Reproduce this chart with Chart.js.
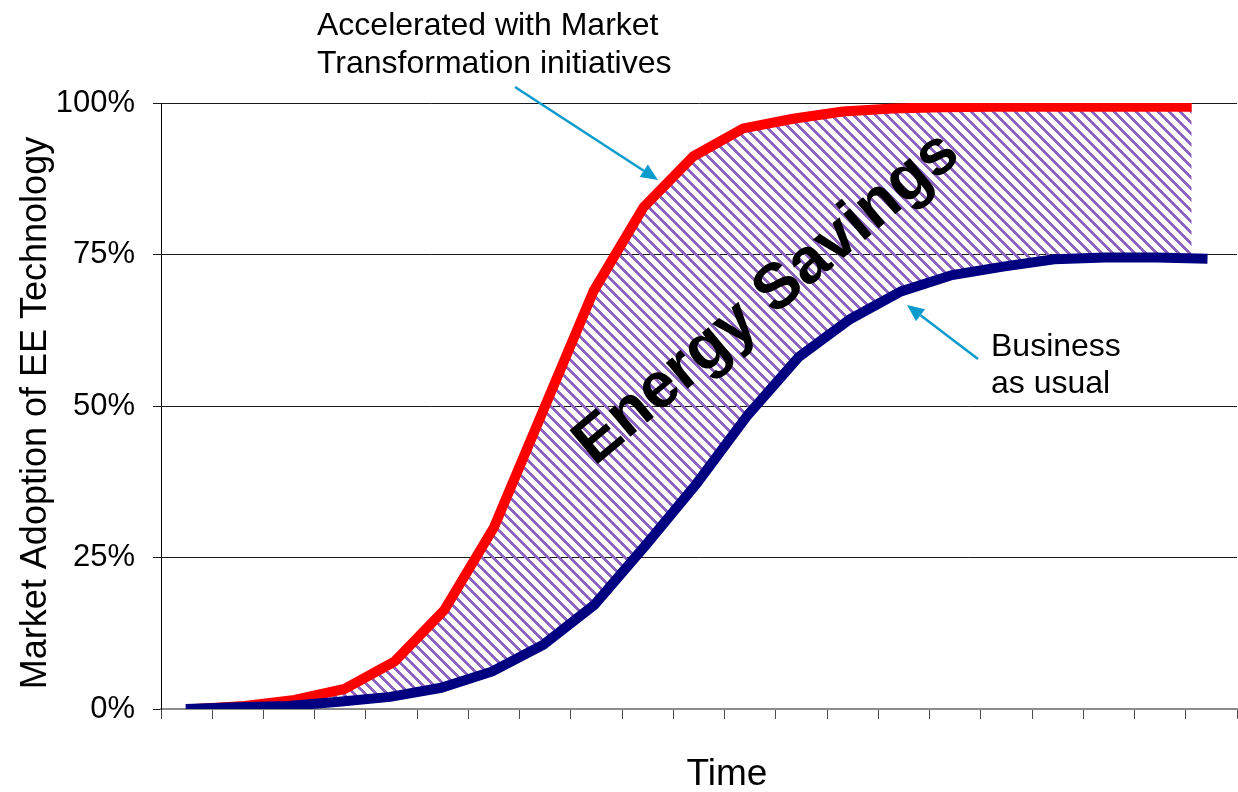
<!DOCTYPE html>
<html>
<head>
<meta charset="utf-8">
<script src="https://cdn.jsdelivr.net/npm/chart.js@4.4.1/dist/chart.umd.min.js"></script>
<style>
  html, body { margin: 0; padding: 0; background: #ffffff; }
  #wrap { width: 1238px; height: 792px; }
</style>
</head>
<body>
<div id="wrap"><canvas id="chart" width="1238" height="792"></canvas></div>
<script>
// Time steps of the adoption curves (no labels are shown on the time axis)
const periods = [0, 1, 2, 3, 4, 5, 6, 7, 8, 9, 10, 11, 12, 13, 14, 15, 16, 17, 18, 19, 20];

// Market adoption, percent of the market
const businessAsUsual = [0, 0.3, 0.5, 1.2, 2.0, 3.5, 6.2, 10.6, 17.2, 27.0, 37.2, 48.5, 58.1, 64.3, 68.9, 71.6, 73.0, 74.2, 74.5, 74.5, 74.3];
const marketTransformation = [0, 0.5, 1.5, 3.3, 7.8, 16.3, 30.0, 49.5, 69.0, 82.8, 91.2, 95.8, 97.4, 98.6, 99.1, 99.3, 99.4, 99.4, 99.4, 99.4, 99.4];

// Value axis
const yTickValues = [0, 25, 50, 75, 100];
const timeTickCount = 21;

// Text
const yAxisTitle = 'Market Adoption of EE Technology';
const xAxisTitle = 'Time';
const mtLabel = ['Accelerated with Market', 'Transformation initiatives'];
const bauLabel = ['Business', 'as usual'];
const savingsLabel = 'Energy Savings';

const FONT = '"Liberation Sans", Arial, Helvetica, sans-serif';

// Diagonal purple hatching for the savings band
function makeHatch() {
  const P = 11;
  const tile = document.createElement('canvas');
  tile.width = P; tile.height = P;
  const g = tile.getContext('2d');
  const img = g.createImageData(P, P);
  for (let y = 0; y < P; y++) {
    for (let x = 0; x < P; x++) {
      const k = (((x - y) % P) + P) % P;
      const i = (y * P + x) * 4;
      if (k < 4) {
        img.data[i] = 142; img.data[i + 1] = 100; img.data[i + 2] = 192; img.data[i + 3] = 255;
      }
    }
  }
  g.putImageData(img, 0, 0);
  return g.createPattern(tile, 'repeat');
}

function drawArrow(ctx, x1, y1, x2, y2, color) {
  const ang = Math.atan2(y2 - y1, x2 - x1);
  const headLen = 17, headHalf = 7.5;
  const bx = x2 - headLen * Math.cos(ang), by = y2 - headLen * Math.sin(ang);
  ctx.save();
  ctx.strokeStyle = color;
  ctx.fillStyle = color;
  ctx.lineWidth = 2.6;
  ctx.beginPath();
  ctx.moveTo(x1, y1);
  ctx.lineTo(bx, by);
  ctx.stroke();
  ctx.beginPath();
  ctx.moveTo(x2, y2);
  ctx.lineTo(bx + headHalf * Math.sin(ang), by - headHalf * Math.cos(ang));
  ctx.lineTo(bx - headHalf * Math.sin(ang), by + headHalf * Math.cos(ang));
  ctx.closePath();
  ctx.fill();
  ctx.restore();
}

// Titles, callouts and the band label
const overlay = {
  id: 'overlay',
  afterDatasetsDraw(chart) {
    const ctx = chart.ctx;
    const area = chart.chartArea;
    ctx.save();
    ctx.fillStyle = '#000000';

    // value axis title
    ctx.save();
    ctx.translate(36, 413);
    ctx.rotate(-Math.PI / 2);
    ctx.font = '36px ' + FONT;
    ctx.textAlign = 'center';
    ctx.textBaseline = 'middle';
    ctx.fillText(yAxisTitle, 0, 0);
    ctx.restore();

    // time axis title
    ctx.font = '37px ' + FONT;
    ctx.textAlign = 'center';
    ctx.textBaseline = 'alphabetic';
    ctx.fillText(xAxisTitle, (area.left + area.right) / 2 + 28, 785);

    // callouts
    ctx.font = '32px ' + FONT;
    ctx.textAlign = 'left';
    ctx.fillText(mtLabel[0], 317, 35);
    ctx.fillText(mtLabel[1], 317, 73);
    ctx.fillText(bauLabel[0], 991, 356);
    ctx.fillText(bauLabel[1], 991, 393);

    drawArrow(ctx, 515, 87, 658, 180, '#0C9BCD');
    drawArrow(ctx, 978, 359, 907, 305, '#0C9BCD');

    // band label
    ctx.save();
    ctx.translate(767, 299);
    ctx.rotate(-40 * Math.PI / 180);
    ctx.font = 'bold 64px ' + FONT;
    ctx.textAlign = 'center';
    ctx.textBaseline = 'middle';
    ctx.fillText(savingsLabel, 0, 0);
    ctx.restore();

    ctx.restore();
  }
};

const ctx = document.getElementById('chart').getContext('2d');
const hatch = makeHatch();

new Chart(ctx, {
  type: 'line',
  data: {
    datasets: [
      {
        label: 'Business as usual',
        data: periods.map((p, i) => ({ x: p, y: businessAsUsual[i] })),
        xAxisID: 'xb',
        borderColor: '#000080',
        borderWidth: 10,
        borderCapStyle: 'butt',
        borderJoinStyle: 'miter',
        pointRadius: 0,
        tension: 0,
        fill: false
      },
      {
        label: 'Accelerated with Market Transformation initiatives',
        data: periods.map((p, i) => ({ x: p, y: marketTransformation[i] })),
        xAxisID: 'xr',
        borderColor: '#FF0000',
        borderWidth: 10,
        borderCapStyle: 'butt',
        borderJoinStyle: 'miter',
        pointRadius: 0,
        tension: 0,
        backgroundColor: hatch,
        fill: 0
      }
    ]
  },
  options: {
    responsive: false,
    animation: false,
    devicePixelRatio: 1,
    layout: { padding: { top: 103, bottom: 73, left: 0, right: 1 } },
    plugins: {
      legend: { display: false },
      tooltip: { enabled: false },
      filler: { drawTime: 'beforeDatasetsDraw' }
    },
    scales: {
      x: {
        type: 'linear',
        min: 0,
        max: timeTickCount,
        position: 'bottom',
        ticks: { display: false, stepSize: 1, autoSkip: false },
        grid: { drawOnChartArea: false, drawTicks: true, tickLength: 10, tickColor: '#4d4d4d', tickWidth: 1 },
        border: { color: '#8c8c8c', width: 2 },
        afterFit(scale) { scale.height = 10; }
      },
      xb: {
        type: 'linear',
        display: false,
        min: -0.4835,
        max: 20.577
      },
      xr: {
        type: 'linear',
        display: false,
        min: -0.682,
        max: 20.909
      },
      y: {
        min: 0,
        max: 100,
        afterBuildTicks(scale) { scale.ticks = yTickValues.map(v => ({ value: v })); },
        ticks: {
          callback: v => v + '%',
          padding: 18,
          color: '#000000',
          font: { family: FONT, size: 31 }
        },
        grid: {
          color: c => (c.tick && c.tick.value === 0) ? 'rgba(0,0,0,0)' : '#1a1a1a',
          tickColor: '#1a1a1a',
          tickLength: 8,
          lineWidth: 1
        },
        border: { color: '#000000', width: 1 },
        afterFit(scale) { scale.width = 161; }
      }
    }
  },
  plugins: [overlay]
});
</script>
</body>
</html>
